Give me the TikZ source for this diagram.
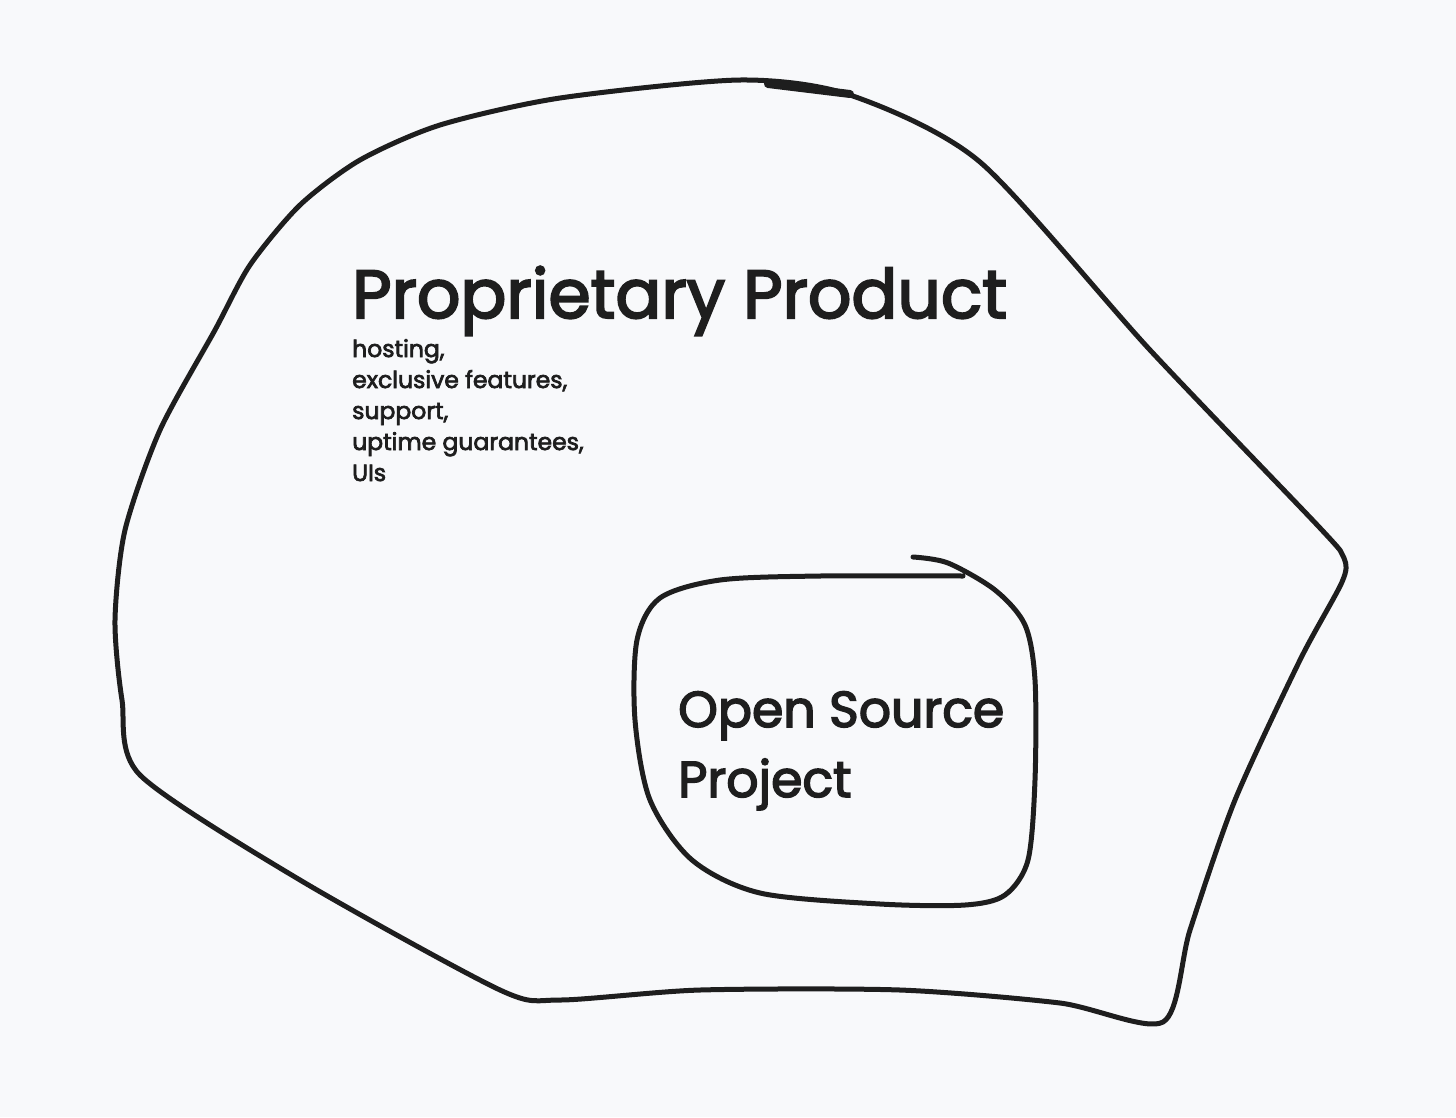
\documentclass[tikz,border=0pt]{standalone}
\usepackage{fontspec}
\setmainfont{Poppins}
\newfontfamily\sketchfont[BoldFont=Poppins, BoldFeatures={FakeBold=3}]{Poppins}
\usepackage{xcolor}
\definecolor{paper}{RGB}{248, 249, 251}
\definecolor{ink}{RGB}{30, 30, 30}
\usetikzlibrary{positioning}

\begin{document}
\begin{tikzpicture}[x=1pt, y=-1pt,
        sketch/.style={draw=ink, line width=5pt, line cap=round, line join=round},
        bigtitle/.style={text=ink, inner sep=0pt, font=\sketchfont\bfseries\fontsize{68}{70}\selectfont},
        smalllist/.style={text=ink, inner sep=0pt, align=left, font=\sketchfont\bfseries\fontsize{23.5}{31}\selectfont},
        osslabel/.style={text=ink, inner sep=0pt, align=left, font=\sketchfont\bfseries\fontsize{50.5}{70}\selectfont}]

    % paper
    \fill [paper] (0,0) rectangle (1456,1117);
    \useasboundingbox (0,0) rectangle (1456,1117);

    % outer blob: proprietary product
    \draw [sketch] plot [smooth cycle, tension=0.45] coordinates {
        (740,80) (850,95) (980,162) (1150,350) (1320,528) (1344,558) (1342,582)
        (1300,660) (1235,800) (1190,930) (1163,1022) (1060,1003) (900,990)
        (700,990) (560,1000) (500,990) (300,880) (140,775) (122,700)
        (115,620) (125,530) (160,430) (215,330) (250,265) (300,205)
        (360,160) (440,125) (560,98)};
    % heavier pen stroke on the top edge
    \draw [sketch, line width=8pt] (768,84) -- (850,94);

    % inner blob: open source project
    \draw [sketch] plot [smooth, tension=0.5] coordinates {
        (913,557) (948,563) (995,590) (1025,625) (1035,680) (1035,780)
        (1028,860) (1005,895) (965,905) (880,904) (760,893) (692,860)
        (650,800) (635,720) (637,640) (660,598) (720,580) (820,576) (963,576)};

    \node [bigtitle, anchor=base west] (title) at (352,318) {Proprietary Product};
    \node [smalllist, anchor=base west] (extras) at (352,481)
        {hosting,\\exclusive features,\\support,\\uptime guarantees,\\UIs};
    \node [osslabel, anchor=base west] (oss) at (678,797) {Open Source\\Project};
\end{tikzpicture}
\end{document}
